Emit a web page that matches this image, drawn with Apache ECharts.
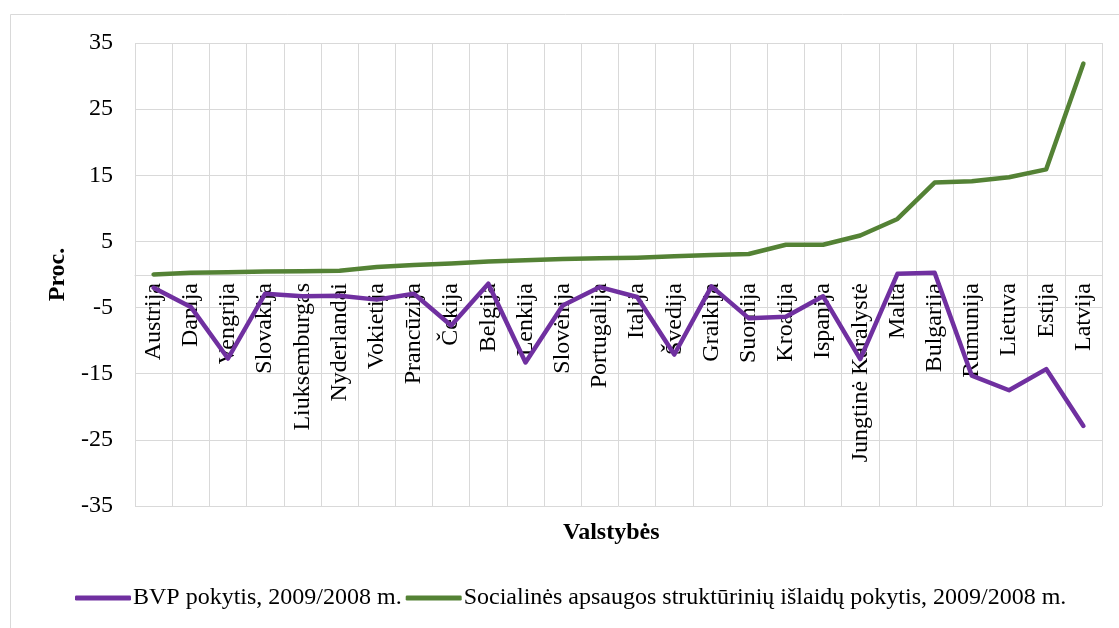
<!DOCTYPE html>
<html><head><meta charset="utf-8">
<script src="https://cdn.jsdelivr.net/npm/echarts@6/dist/echarts.min.js"></script>
<style>html,body{margin:0;padding:0;background:#fff}#c{width:1119px;height:628px}</style>
</head><body><div id="c"></div>
<script>
const categories = ["Austrija","Danija","Vengrija","Slovakija","Liuksemburgas","Nyderlandai","Vokietija","Prancūzija","Čekija","Belgija","Lenkija","Slovėnija","Portugalija","Italija","Švedija","Graikija","Suomija","Kroatija","Ispanija","Jungtinė Karalystė","Malta","Bulgarija","Rumunija","Lietuva","Estija","Latvija"];
const bvp = [-2.0,-4.9,-12.7,-2.9,-3.3,-3.2,-3.8,-2.9,-7.7,-1.4,-13.3,-4.7,-1.9,-3.4,-12.1,-1.8,-6.6,-6.4,-3.3,-12.8,0.1,0.25,-15.3,-17.5,-14.3,-22.9];
const social = [0.0,0.25,0.35,0.45,0.5,0.55,1.15,1.45,1.65,1.95,2.15,2.35,2.45,2.55,2.75,2.95,3.1,4.5,4.5,5.9,8.4,13.9,14.1,14.7,15.9,31.9];
const seriesNames = ["BVP pokytis, 2009/2008 m.","Socialinės apsaugos struktūrinių išlaidų pokytis, 2009/2008 m."];
const yTicks = {min:-35,max:35,interval:10};

const FONT = "'Liberation Serif','Times New Roman',serif";
const chart = echarts.init(document.getElementById('c'));
chart.setOption({
  animation:false,
  backgroundColor:'#fff',
  textStyle:{fontFamily:FONT,color:'#000'},
  graphic:[{type:'rect',shape:{x:10.5,y:14.5,width:1120,height:640},style:{fill:'none',stroke:'#d9d9d9',lineWidth:1},silent:true,z:-1}],
  title:[
    {text:'Valstybės',left:558,top:516,textStyle:{fontFamily:FONT,fontWeight:'bold',fontSize:24,color:'#000'}}
  ],
  grid:{left:135,right:17,top:43,bottom:122,containLabel:false,outerBoundsMode:'none'},
  legend:{
    bottom:13,left:70,itemWidth:56,itemHeight:5,itemGap:4,
    icon:'roundRect',
    textStyle:{fontFamily:FONT,fontSize:24,color:'#000',padding:[0,0,0,-3]},
    data:seriesNames
  },
  xAxis:{
    type:'category',data:categories,boundaryGap:true,position:'bottom',offset:-231,
    axisLine:{onZero:false,lineStyle:{color:'#d9d9d9',width:1}},
    axisTick:{show:false},
    splitLine:{show:true,lineStyle:{color:'#d9d9d9',width:1}},
    axisLabel:{rotate:90,interval:0,margin:8,fontFamily:FONT,fontSize:24,color:'#000'}
  },
  yAxis:{
    type:'value',min:yTicks.min,max:yTicks.max,interval:yTicks.interval,
    name:'Proc.',nameLocation:'middle',nameGap:65,
    nameTextStyle:{fontFamily:FONT,fontWeight:'bold',fontSize:24,color:'#000'},
    axisLine:{show:false},axisTick:{show:false},
    splitLine:{lineStyle:{color:'#d9d9d9',width:1}},
    axisLabel:{margin:22,fontFamily:FONT,fontSize:24,color:'#000'}
  },
  series:[
    {name:seriesNames[0],type:'line',data:bvp,symbol:'none',lineStyle:{color:'#7030A0',width:4.5,cap:'round',join:'round'},itemStyle:{color:'#7030A0'},z:3},
    {name:seriesNames[1],type:'line',data:social,symbol:'none',lineStyle:{color:'#548235',width:4.5,cap:'round',join:'round'},itemStyle:{color:'#548235'},z:2}
  ]
});
</script></body></html>
